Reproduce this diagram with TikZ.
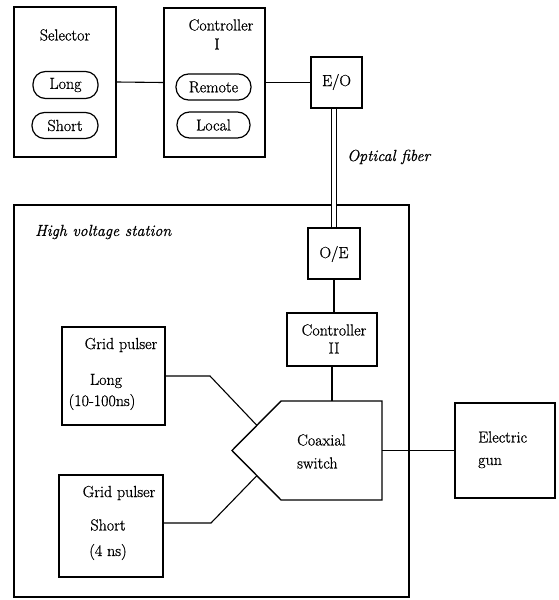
\documentclass[tikz,border=0pt]{standalone}
\usepackage{fontspec}
\setmainfont{Latin Modern Roman}[FakeBold=0.8]
\begin{document}
\begin{tikzpicture}[x=1pt,y=-1pt,
  every node/.style={font=\fontsize{16}{18}\selectfont, inner sep=0pt},
  box/.style={draw, line width=1.4pt, rectangle},
  oval/.style={draw, line width=1.2pt, rectangle, rounded corners=12.5pt},
  wire/.style={line width=1.1pt},
  lbl/.style={anchor=west},
  ital/.style={font=\fontsize{16}{18}\selectfont\itshape, anchor=west}]
\useasboundingbox (0,0) rectangle (558,600);

% top row
\node[box, minimum width=102pt, minimum height=150pt] (sel) at (65,82) {};
\node (seltxt) at (65,35) {Selector};
\node[oval, minimum width=65pt, minimum height=27pt] (olong) at (65.5,85) {Long};
\node[oval, minimum width=66pt, minimum height=26pt] (oshort) at (65,125.5) {Short};

\node[box, minimum width=101pt, minimum height=149pt] (c1) at (214.5,82.5) {};
\node (c1t) at (221,25) {Controller};
\node (c1n) at (217,44) {I};
\node[oval, minimum width=75pt, minimum height=26pt] (orem) at (213.5,87) {Remote};
\node[oval, minimum width=73pt, minimum height=26pt] (oloc) at (213.5,125) {Local};

\node[box, minimum width=51pt, minimum height=51pt] (eo) at (336.5,82.5) {};
\node (eot) at (336.5,82) {E/O};

\draw[wire] (sel.east) -- (c1.west);
\draw[wire] (c1.east) -- (eo.west);

% high voltage station
\draw[box] (14,205) rectangle (409,597);
\node[ital] (hvs) at (35,232) {High voltage station};

\node[box, minimum width=52pt, minimum height=51pt] (oe) at (334,253.5) {};
\node (oet) at (334,254) {O/E};

\draw[line width=1pt, double distance=4.5pt] (oe.north) -- (oe.north |- eo.south);
\node[ital] (fib) at (347,157) {Optical fiber};

\node[box, minimum width=90pt, minimum height=53pt] (c2) at (332,339.5) {};
\node (c2t) at (334,330) {Controller};
\node (c2n) at (334,348) {II};

% coaxial switch
\coordinate (swA) at (281,401);
\coordinate (swB) at (382,401);
\coordinate (swC) at (382,500);
\coordinate (swD) at (281,500);
\coordinate (swE) at (232,450.5);
\draw[box] (swA) -- (swB) -- (swC) -- (swD) -- (swE) -- cycle;
\node[lbl] (swt1) at (297,440) {Coaxial};
\node[lbl] (swt2) at (297,463) {switch};
\coordinate (swtop) at (332,401);
\coordinate (swout) at (382,450.5);
\coordinate (swin1) at (257,425.5);
\coordinate (swin2) at (257,475.5);

\draw[wire] (oe.south) -- (oe.south |- c2.north);
\draw[wire] (c2.south) -- (swtop);

% grid pulsers
\node[box, minimum width=103pt, minimum height=98pt] (gl) at (113.5,376) {};
\node (glt) at (121,345) {Grid pulser};
\node (gll) at (106,381) {Long};
\node (glr) at (102,402) {(10-100ns)};

\node[box, minimum width=104pt, minimum height=102pt] (gs) at (111,526) {};
\node (gst) at (119,493) {Grid pulser};
\node (gss) at (108,525) {Short};
\node (gsr) at (108,552) {(4 ns)};

\coordinate (bl) at (210,376);
\coordinate (bs) at (211,523);
\draw[wire] (gl.east) -- (bl) -- (swin1);
\draw[wire] (gs.east |- bs) -- (bs) -- (swin2);

% electric gun
\node[box, minimum width=100pt, minimum height=95pt] (gun) at (505,450.5) {};
\node[lbl] (gunt1) at (478,437) {Electric};
\node[lbl] (gunt2) at (478,463) {gun};

\draw[wire] (swout) -- (gun.west);
\end{tikzpicture}
\end{document}
